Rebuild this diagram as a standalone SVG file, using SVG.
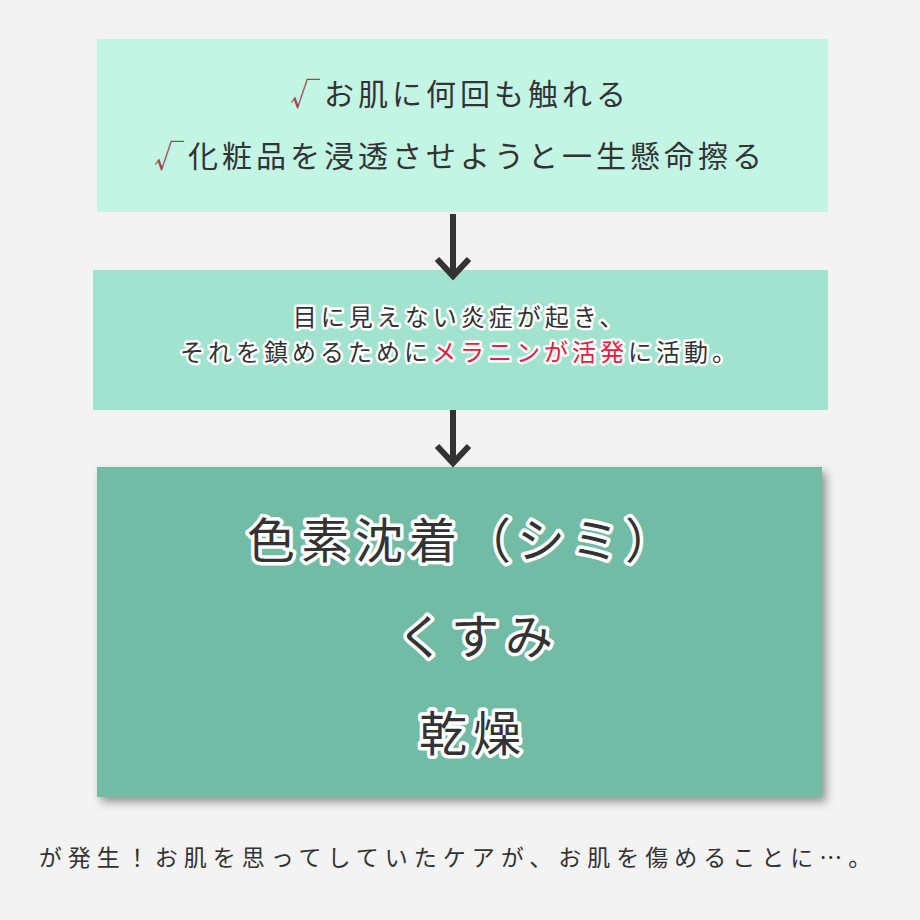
<svg xmlns="http://www.w3.org/2000/svg" width="920" height="920" viewBox="0 0 920 920">
<defs>
<style>
.t{font-family:"Noto Sans CJK JP","Noto Sans CJK SC",sans-serif;fill:#333;text-anchor:middle}
.o{stroke:#fff;stroke-linejoin:round;paint-order:stroke}
.arr{stroke:#333;stroke-width:6;fill:none}
</style>
<filter id="sh" x="-5%" y="-5%" width="115%" height="115%"><feDropShadow dx="4" dy="5" stdDeviation="5" flood-color="#000" flood-opacity="0.4"/></filter>
</defs>
<rect width="920" height="920" fill="#f3f3f3"/>
<g id="box1">
<rect x="97" y="39" width="731" height="173" fill="#c3f5e5"/>
<text class="t" x="460" y="105" font-size="30" letter-spacing="4"><tspan fill="#a0454b">√</tspan>お肌に何回も触れる</text>
<text class="t" x="460" y="167" font-size="30" letter-spacing="4"><tspan fill="#a0454b">√</tspan>化粧品を浸透させようと一生懸命擦る</text>
</g>
<g id="box2">
<rect x="93" y="270" width="735" height="140" fill="#a1e3cf"/>
<text class="t o" x="460" y="326" font-size="24" stroke-width="5" letter-spacing="4">目に見えない炎症が起き、</text>
<text class="t o" x="460" y="361" font-size="24" stroke-width="5" letter-spacing="4">それを鎮めるために<tspan fill="#e0203c">メラニン</tspan><tspan fill="#e0203c">が活発</tspan>に活動。</text>
</g>
<g id="box3">
<rect x="97" y="467" width="725" height="330" fill="#72bba5" filter="url(#sh)"/>
<text class="t o" x="463" y="558" font-size="48" stroke-width="7" letter-spacing="6">色素沈着（シミ）</text>
<text class="t o" x="478" y="654" font-size="48" stroke-width="7" letter-spacing="6">くすみ</text>
<text class="t o" x="473" y="751" font-size="48" stroke-width="7" letter-spacing="6">乾燥</text>
</g>
<g id="connectors">
<path class="arr" d="M453 214V275M437 259L453 276L469 259"/>
<path class="arr" d="M453 410V462M437 446L453 463L469 446"/>
</g>
<text id="footer" class="t" x="458" y="866" font-size="23" letter-spacing="6">が発生！お肌を思ってしていたケアが、お肌を傷めることに…。</text>
</svg>
